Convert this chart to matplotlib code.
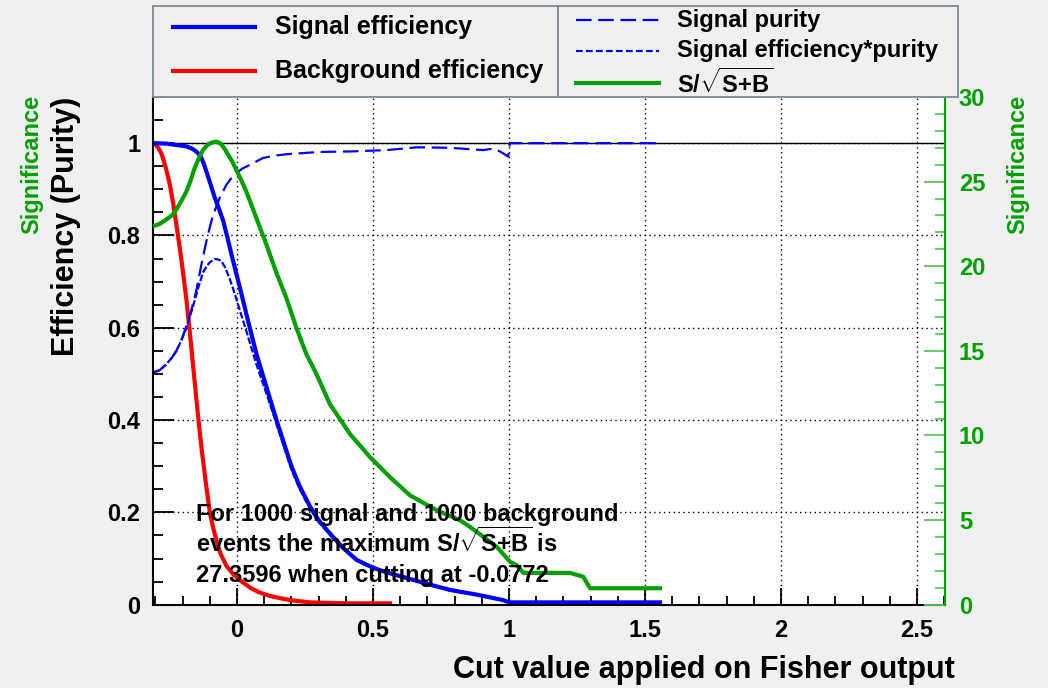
import numpy as np
import matplotlib
matplotlib.use("Agg")
import matplotlib.pyplot as plt
from matplotlib.lines import Line2D
from matplotlib.patches import Rectangle
from matplotlib.ticker import MultipleLocator, FuncFormatter

# Fisher classifier: efficiencies, purity and significance vs. cut value
cut_bkg = [-0.309, -0.3, -0.29, -0.28, -0.272, -0.26, -0.247, -0.235, -0.223, -0.211,
           -0.199, -0.186, -0.174, -0.162, -0.15, -0.14, -0.131, -0.115, -0.099, -0.087,
           -0.075, -0.0625, -0.04, -0.014, 0.015, 0.048, 0.08, 0.121, 0.16, 0.195, 0.268,
           0.4, 0.562]
eff_bkg = [1.0, 0.997, 0.99, 0.98, 0.967, 0.942, 0.91, 0.87, 0.823, 0.775,
           0.722, 0.66, 0.593, 0.52, 0.448, 0.39, 0.341, 0.265, 0.196, 0.165,
           0.138, 0.113, 0.085, 0.066, 0.051, 0.037, 0.027, 0.019, 0.014, 0.01, 0.005,
           0.003, 0.003]

cut_sig = [-0.309, -0.26, -0.235, -0.21, -0.186, -0.165, -0.15, -0.14, -0.131, -0.122,
           -0.113, -0.098, -0.082, -0.066, -0.051, -0.036, -0.021, 0.01, 0.04, 0.071,
           0.108, 0.145, 0.175, 0.2, 0.23, 0.268, 0.3, 0.342, 0.39, 0.44, 0.5, 0.55,
           0.611, 0.7, 0.783, 0.88, 0.978, 1.0, 1.555]
eff_sig = [1.0, 0.999, 0.997, 0.995, 0.993, 0.988, 0.982, 0.976, 0.968, 0.955,
           0.939, 0.912, 0.882, 0.857, 0.832, 0.797, 0.76, 0.688, 0.616, 0.544,
           0.472, 0.4, 0.345, 0.3, 0.257, 0.213, 0.183, 0.154, 0.123, 0.097, 0.08, 0.07,
           0.06, 0.045, 0.032, 0.022, 0.01, 0.005, 0.005]

cut_pur = [-0.309, -0.285, -0.26, -0.24, -0.223, -0.205, -0.186, -0.165, -0.15, -0.13,
           -0.113, -0.1, -0.088, -0.064, -0.039, -0.02, -0.003, 0.02, 0.047, 0.096,
           0.14, 0.181, 0.304, 0.415, 0.55, 0.66, 0.78, 0.905, 0.94, 0.967, 0.997,
           1.003, 1.555]
purity = [0.503, 0.508, 0.521, 0.535, 0.55, 0.573, 0.604, 0.645, 0.68, 0.74,
          0.787, 0.818, 0.845, 0.881, 0.91, 0.925, 0.935, 0.945, 0.953, 0.968,
          0.973, 0.976, 0.981, 0.982, 0.985, 0.991, 0.99, 0.985, 0.988, 0.982, 0.971,
          1.0, 1.0]

cut_effpur = [-0.309, -0.285, -0.26, -0.24, -0.223, -0.205, -0.186, -0.165, -0.143, -0.125,
              -0.112, -0.1, -0.082, -0.07, -0.058, -0.043, -0.027, -0.012, 0.004, 0.034,
              0.071, 0.114, 0.157, 0.2, 0.23, 0.268, 0.3, 0.342, 0.39, 0.44, 0.5, 0.55,
              0.611, 0.7, 0.783, 0.88, 0.978, 1.0, 1.555]
eff_pur = [0.503, 0.508, 0.521, 0.535, 0.55, 0.572, 0.6, 0.64, 0.686, 0.72,
           0.733, 0.742, 0.749, 0.748, 0.745, 0.73, 0.706, 0.68, 0.65, 0.593,
           0.521, 0.447, 0.37, 0.293, 0.251, 0.208, 0.179, 0.151, 0.121, 0.095, 0.079, 0.069,
           0.059, 0.044, 0.031, 0.021, 0.01, 0.005, 0.005]

cut_signif = [-0.309, -0.285, -0.26, -0.24, -0.223, -0.205, -0.186, -0.17, -0.156, -0.14,
              -0.125, -0.11, -0.095, -0.0772, -0.065, -0.055, -0.044, -0.033, -0.018, -0.003,
              0.015, 0.034, 0.071, 0.108, 0.145, 0.181, 0.218, 0.255, 0.292, 0.341, 0.415,
              0.489, 0.562, 0.636, 0.734, 0.82, 0.857, 0.955, 1.004, 1.028, 1.053, 1.224,
              1.273, 1.298, 1.555]
signif = [22.36, 22.5, 22.76, 23.0, 23.35, 23.85, 24.42, 25.1, 25.8, 26.4,
          26.88, 27.15, 27.3, 27.3596, 27.3, 27.15, 26.9, 26.58, 26.2, 25.7,
          25.1, 24.42, 22.85, 21.28, 19.6, 18.14, 16.37, 14.8, 13.63, 11.86, 10.09,
          8.72, 7.54, 6.46, 5.58, 4.99, 4.59, 3.42, 2.53, 2.34, 1.88, 1.88,
          1.65, 0.97, 0.97]

n_signal = 1000
n_background = 1000

GREEN = '#00a000'
W, H = 1048, 688

plt.rcParams['font.family'] = 'Liberation Sans'
plt.rcParams['font.weight'] = 'bold'
plt.rcParams['mathtext.fontset'] = 'custom'
plt.rcParams['mathtext.rm'] = 'Liberation Sans:bold'
plt.rcParams['mathtext.it'] = 'Liberation Sans:bold'
plt.rcParams['mathtext.bf'] = 'Liberation Sans:bold'

SSB = r'S/$\sqrt{\mathrm{S{+}B}}$'


def fx(px):
    return px / W


def fy(py):
    return 1 - py / H


fig = plt.figure(figsize=(W / 100, H / 100), dpi=100, facecolor='#f0f0f0')
ax = fig.add_axes([fx(153), fy(604.7), fx(945) - fx(153), fy(97) - fy(604.7)])
ax.set_facecolor('white')
ax.set_xlim(-0.309, 2.603)
ax.set_ylim(0, 1.1)

ax.grid(True, which='major', color='black', linestyle=(0, (1, 2.5)), linewidth=1)
ax.axhline(1.0, color='black', linewidth=1)

ax.plot(cut_bkg, eff_bkg, color='red', linewidth=3)
ax.plot(cut_sig, eff_sig, color='blue', linewidth=3)
ax.plot(cut_pur, purity, color='blue', linewidth=1.6, dashes=(7, 3))
ax.plot(cut_effpur, eff_pur, color='blue', linewidth=1.6, dashes=(3, 1))

fmt = FuncFormatter(lambda v, pos: f'{v:g}')
ax.xaxis.set_major_locator(MultipleLocator(0.5))
ax.xaxis.set_minor_locator(MultipleLocator(0.1))
ax.yaxis.set_major_locator(MultipleLocator(0.2))
ax.yaxis.set_minor_locator(MultipleLocator(0.05))
ax.xaxis.set_major_formatter(fmt)
ax.yaxis.set_major_formatter(fmt)
ax.tick_params(axis='x', which='major', direction='in', length=12, width=1.3, labelsize=17, pad=10)
ax.tick_params(axis='x', which='minor', direction='in', length=6.5, width=1.3)
ax.tick_params(axis='y', which='major', direction='in', length=15, width=1.3, labelsize=17, pad=9)
ax.tick_params(axis='y', which='minor', direction='in', length=7.5, width=1.3)
for side in ['top', 'right']:
    ax.spines[side].set_visible(False)
for side in ['left', 'bottom']:
    ax.spines[side].set_linewidth(1.5)

# significance on its own scale (right axis)
ax2 = ax.twinx()
ax2.set_ylim(0, 30)
ax2.plot(cut_signif, signif, color=GREEN, linewidth=3)
ax2.yaxis.set_major_locator(MultipleLocator(5))
ax2.yaxis.set_minor_locator(MultipleLocator(1))
ax2.tick_params(axis='y', which='major', direction='in', length=15, width=1.3,
                color='#5cc45c', labelcolor=GREEN, labelsize=17, pad=10)
ax2.tick_params(axis='y', which='minor', direction='in', length=7.5, width=1.3, color='#5cc45c')
for side in ['top', 'left', 'bottom']:
    ax2.spines[side].set_visible(False)
ax2.spines['right'].set_color(GREEN)
ax2.spines['right'].set_linewidth(1.5)

# axis titles
fig.text(fx(955), fy(678), 'Cut value applied on Fisher output', fontsize=22,
         ha='right', va='baseline')
fig.text(fx(66), fy(97), 'Efficiency (Purity)', fontsize=22, rotation=90,
         ha='center', va='top')
fig.text(fx(32), fy(95), 'Significance', fontsize=17, rotation=90,
         ha='center', va='top', color=GREEN)
fig.text(fx(1018), fy(95), 'Significance', fontsize=17, rotation=90,
         ha='center', va='top', color=GREEN)

# maximum significance summary
i_max = int(np.argmax(signif))
lines = [f'For {n_signal} signal and {n_background} background',
         f'events the maximum {SSB} is',
         f'{signif[i_max]:.4f} when cutting at {cut_signif[i_max]:.4f}']
for txt, base in zip(lines, [521, 552, 582]):
    fig.text(fx(196), fy(base), txt, fontsize=17, ha='left', va='baseline')

# legend boxes
box_color = '#7d889a'
for x0, x1 in [(153, 558), (558, 958)]:
    fig.add_artist(Rectangle((fx(x0), fy(97)), fx(x1) - fx(x0), fy(6) - fy(97),
                             transform=fig.transFigure, facecolor='#f0f0f0',
                             edgecolor=box_color, linewidth=1.3))

left_entries = [('Signal efficiency', dict(color='blue', linewidth=3), 27),
                ('Background efficiency', dict(color='red', linewidth=3), 71)]
for label, style, y in left_entries:
    fig.add_artist(Line2D([fx(173), fx(255)], [fy(y), fy(y)], transform=fig.transFigure, **style))
    fig.text(fx(275), fy(y), label, fontsize=18, ha='left', va='center')

right_entries = [('Signal purity', dict(color='blue', linewidth=1.6, dashes=(7, 3)), 20),
                 ('Signal efficiency*purity', dict(color='blue', linewidth=1.6, dashes=(3, 1.5)), 51),
                 (SSB, dict(color=GREEN, linewidth=3), 83)]
for label, style, y in right_entries:
    fig.add_artist(Line2D([fx(576), fx(659)], [fy(y), fy(y)], transform=fig.transFigure, **style))
    fig.text(fx(677), fy(y), label, fontsize=17, ha='left', va='center')

fig.savefig('out.png', dpi=100, facecolor=fig.get_facecolor())
